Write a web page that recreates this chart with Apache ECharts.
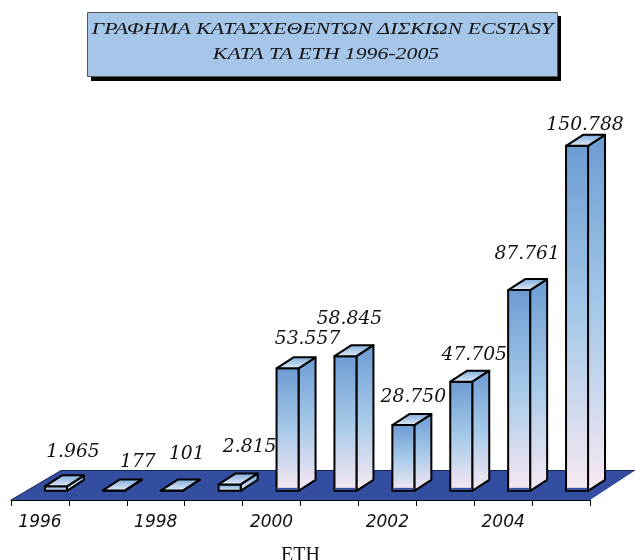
<!DOCTYPE html>
<html><head><meta charset="utf-8">
<script src="https://cdn.jsdelivr.net/npm/echarts@6/dist/echarts.min.js"></script>
<style>html,body{margin:0;padding:0;background:#fff}#c{width:635px;height:560px}</style>
</head><body><div id="c"></div>
<script>
var years = ['1996','1997','1998','1999','2000','2001','2002','2003','2004','2005'];
var discs = [1965,177,101,2815,53557,58845,28750,47705,87761,150788];
var labelDx = [17,24,15,20,20,4,10,13,8,8];
var labelDy = [-34,-28,-36,-37,-29,-37,-28,-26,-36,-21];
var titleLines = ['ΓΡΑΦΗΜΑ ΚΑΤΑΣΧΕΘΕΝΤΩΝ ΔΙΣΚΙΩΝ ECSTASY','ΚΑΤΑ ΤΑ ΕΤΗ 1996-2005'];
var xName = 'ΕΤΗ';

function fmt(v){return String(v).replace(/\B(?=(\d{3})+$)/g,'.');}
function grad(stops){return {type:'linear',x:0,y:0,x2:0,y2:1,colorStops:stops};}
var faceStops=[{offset:0,color:'#6c9bd2'},{offset:0.5,color:'#a6c9e9'},{offset:1,color:'#f8e9f2'}];
var topStops=[{offset:0,color:'#7aa9dc'},{offset:1,color:'#e8eef8'}];
var titleFont={fontFamily:'Liberation Serif',fontStyle:'italic',fontSize:17,fill:'#111',align:'center',verticalAlign:'middle'};

var chart = echarts.init(document.getElementById('c'),null,{renderer:'canvas'});
chart.setOption({
  animation:false,
  backgroundColor:'#fff',
  graphic:[
    {type:'rect',z:-10,shape:{x:91,y:16,width:470,height:65},style:{fill:'#000'}},
    {type:'rect',z:-9,shape:{x:87.5,y:12.5,width:470,height:64},style:{fill:'#a6c6e9',stroke:'#555',lineWidth:1}},
    {type:'text',z:-8,x:322.5,y:30,scaleX:1.28,style:Object.assign({text:titleLines[0]},titleFont)},
    {type:'text',z:-8,x:326,y:55,scaleX:1.28,style:Object.assign({text:titleLines[1]},titleFont)},
    {type:'polygon',z:-5,shape:{points:[[11,500],[590,500],[635,470.5],[61,470.5]]},style:{fill:'#334ea0'}},
    {type:'polyline',z:-4,shape:{points:[[11,500],[61,470.5],[635,470.5]]},style:{fill:'none',stroke:'#16224f',lineWidth:1}}
  ],
  grid:{left:11,top:100,width:579,height:400,outerBoundsMode:'none'},
  xAxis:{
    type:'category',data:years,boundaryGap:true,
    name:xName,nameLocation:'middle',nameGap:56,
    nameTextStyle:{fontFamily:'Liberation Serif',fontSize:20,color:'#111',verticalAlign:'middle'},
    axisLine:{onZero:false,lineStyle:{color:'#000',width:1}},
    axisTick:{show:true,alignWithLabel:false,interval:0,length:6,lineStyle:{color:'#000'}},
    axisLabel:{interval:1,margin:14,fontFamily:'DejaVu Sans',fontStyle:'italic',fontSize:17,color:'#111'},
    splitLine:{show:false}
  },
  yAxis:{type:'value',min:-4000,max:170825,show:false,splitLine:{show:false}},
  series:[{
    type:'custom',
    coordinateSystem:'cartesian2d',
    data:discs.map(function(v,i){return [i,v,labelDx[i],labelDy[i]];}),
    encode:{x:0,y:1},
    clip:false,
    renderItem:function(params,api){
      var base=api.coord([api.value(0),0]);
      var top=api.coord([api.value(0),api.value(1)]);
      var w=22,dx=17,dy=11,off=5;
      var x0=base[0]+off,x1=x0+w,yb=base[1],yt=top[1];
      var st=function(fill){return {fill:fill,stroke:'#000',lineWidth:2,lineJoin:'round'};};
      var front={type:'polygon',shape:{points:[[x0,yb],[x1,yb],[x1,yt],[x0,yt]]},style:st(grad(faceStops))};
      var side={type:'polygon',shape:{points:[[x1,yb],[x1+dx,yb-dy],[x1+dx,yt-dy],[x1,yt]]},style:st(grad(faceStops))};
      var roof={type:'polygon',shape:{points:[[x0,yt],[x1,yt],[x1+dx,yt-dy],[x0+dx,yt-dy]]},style:st(grad(topStops))};
      var strip={type:'rect',shape:{x:x0+1,y:yb-3,width:w-2,height:2},style:{fill:'#334ea0',opacity:(yb-yt)>20?1:0}};
      var label={type:'text',x:x0+w/2+api.value(2),y:yt+api.value(3),scaleX:1.04,
        style:{text:fmt(api.value(1)),fontFamily:'DejaVu Serif',fontStyle:'italic',fontSize:18,fill:'#111',align:'center',verticalAlign:'middle'}};
      return {type:'group',children:[side,front,strip,roof,label]};
    }
  }]
});
</script></body></html>
